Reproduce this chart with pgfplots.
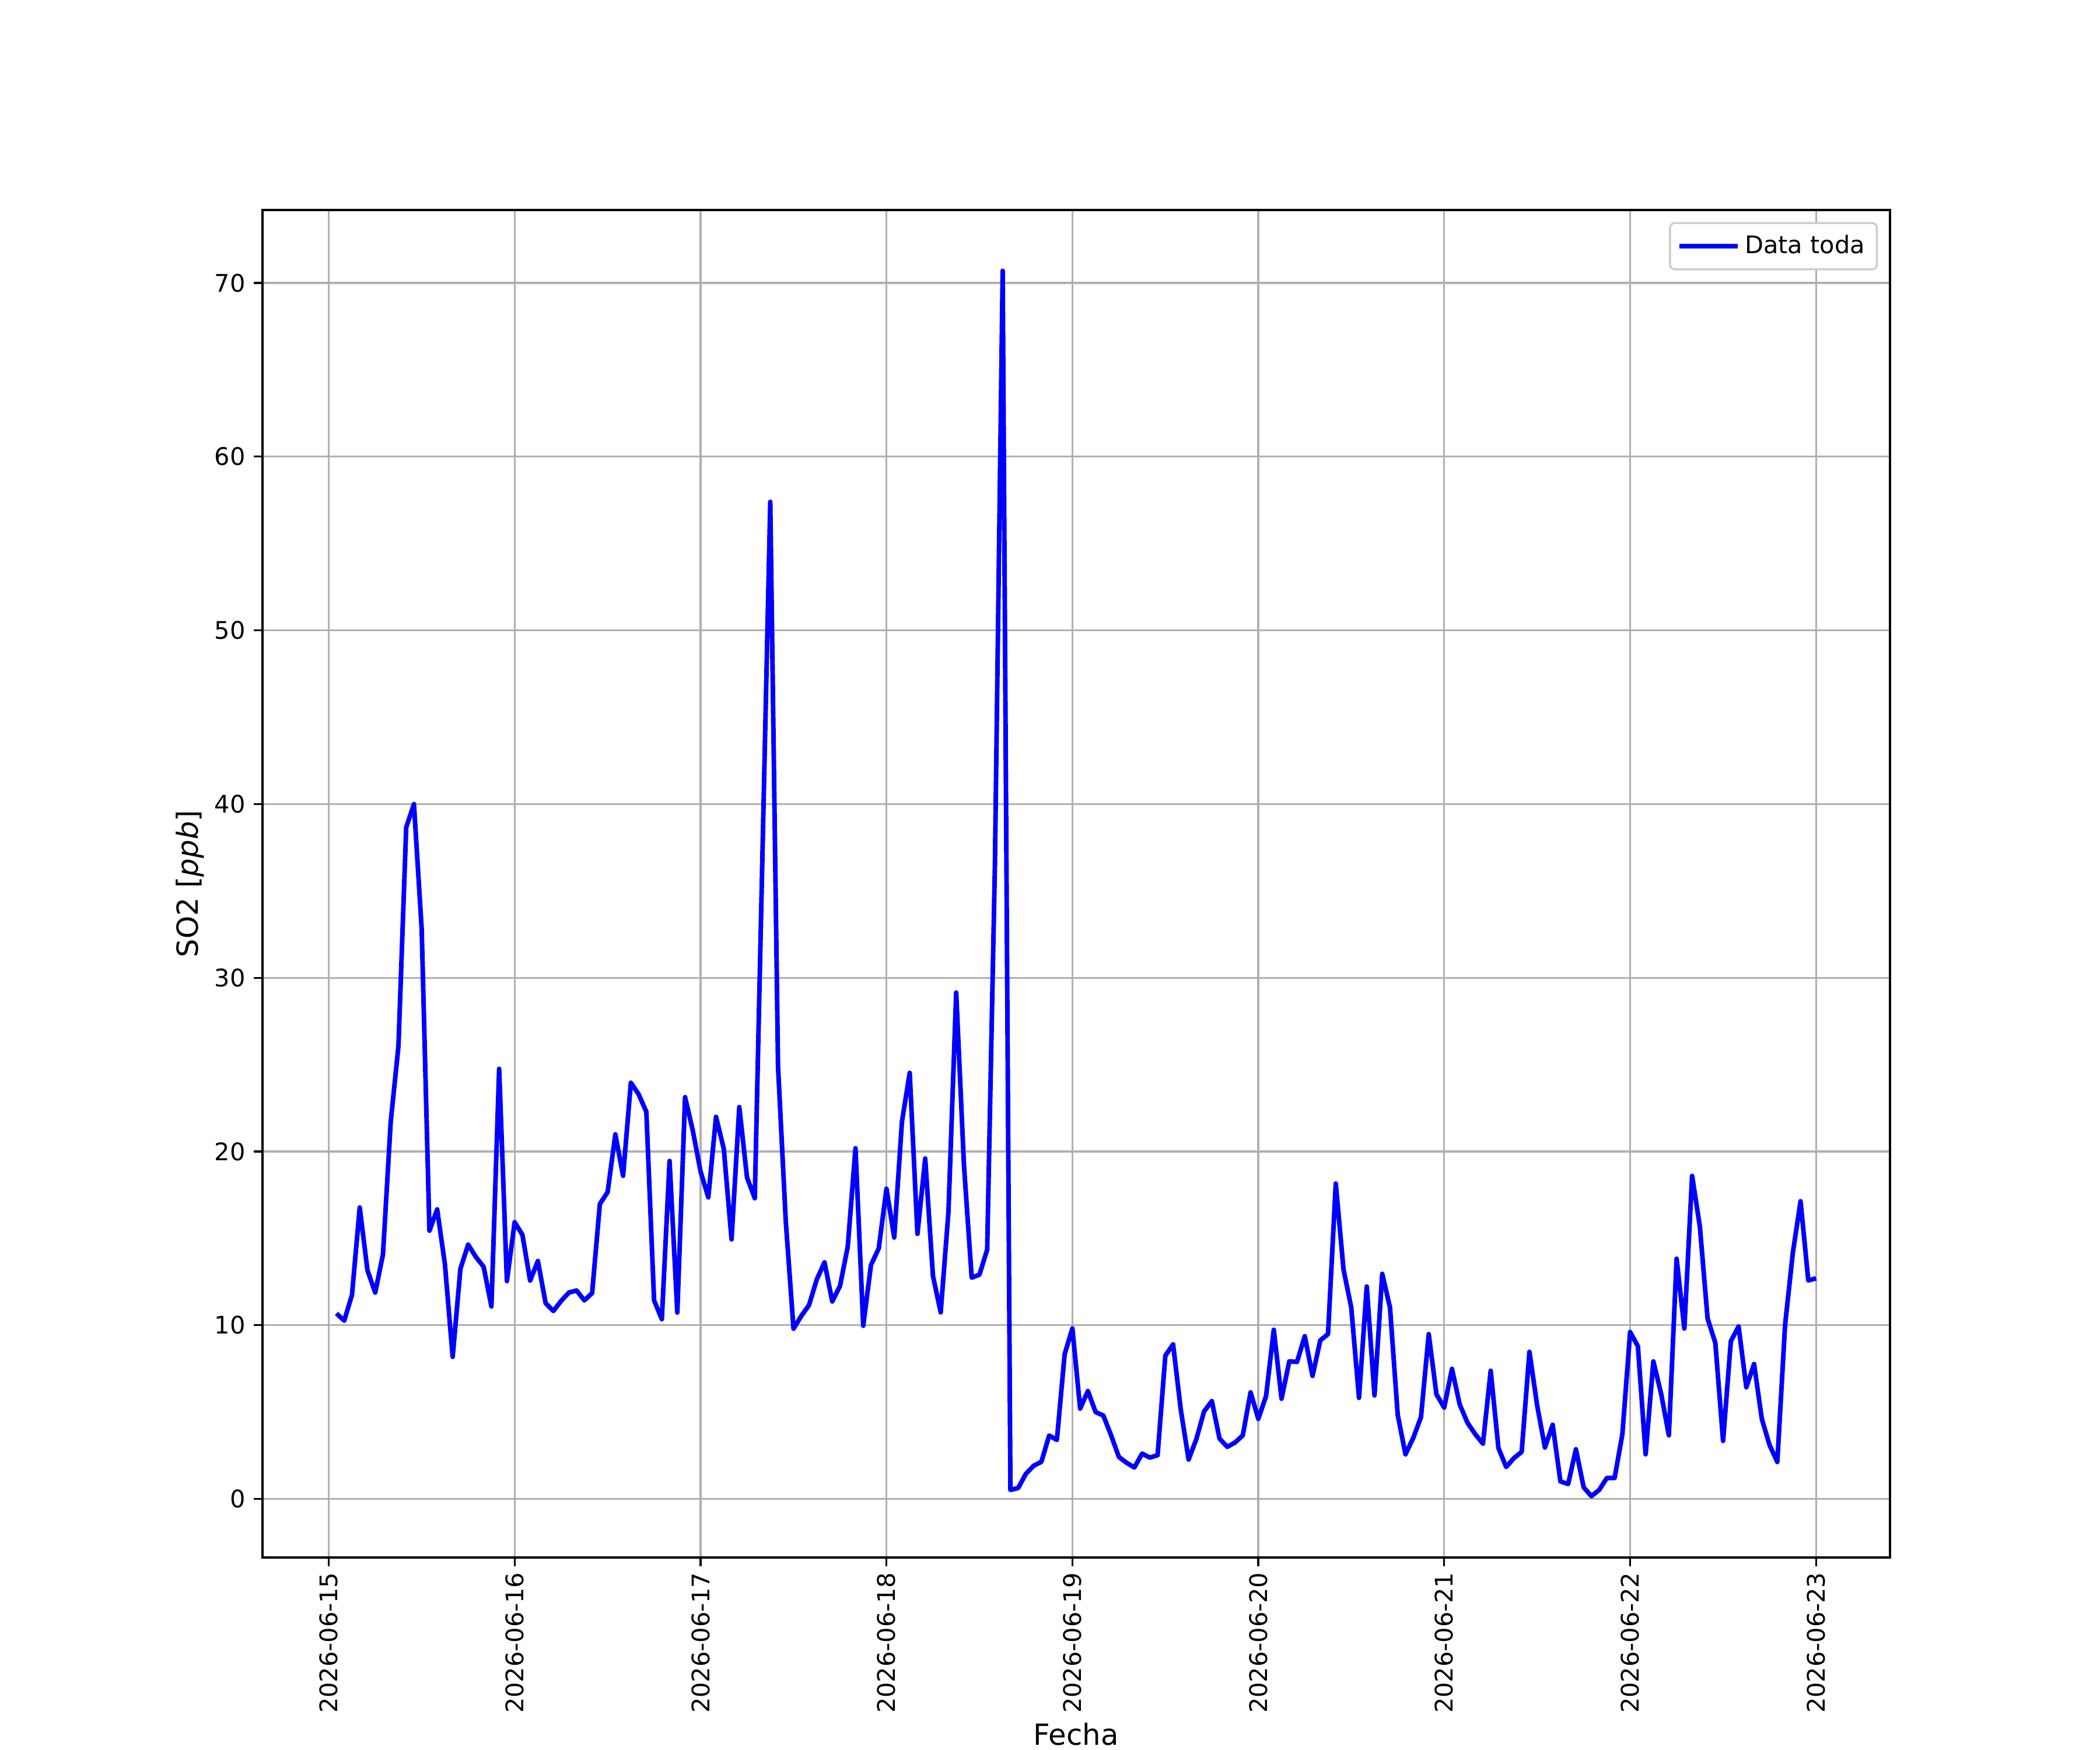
\documentclass[border=0pt]{standalone}
\usepackage{fontspec}
\setmainfont{DejaVu Sans}
\usepackage{pgfplots}
\pgfplotsset{compat=1.18}
\usepackage{pgfplotstable}
\definecolor{gridgray}{RGB}{176,176,176}
\pgfplotstableread{
h v
1 10.68
2 10.26
3 11.74
4 16.78
5 13.16
6 11.88
7 14.07
8 21.7
9 26.07
10 38.66
11 40.0
12 32.8
13 15.44
14 16.67
15 13.5
16 8.18
17 13.25
18 14.64
19 13.93
20 13.36
21 11.08
22 24.76
23 12.54
24 15.93
25 15.21
26 12.57
27 13.7
28 11.27
29 10.82
30 11.4
31 11.88
32 12.0
33 11.43
34 11.85
35 16.98
36 17.66
37 20.99
38 18.6
39 23.96
40 23.3
41 22.29
42 11.43
43 10.35
44 19.46
45 10.73
46 23.13
47 21.2
48 18.85
49 17.36
50 22.0
51 20.15
52 14.94
53 22.56
54 18.5
55 17.31
56 37.3
57 57.4
58 24.91
59 15.99
60 9.8
61 10.53
62 11.16
63 12.63
64 13.62
65 11.37
66 12.26
67 14.52
68 20.19
69 9.97
70 13.47
71 14.42
72 17.86
73 15.05
74 21.72
75 24.53
76 15.26
77 19.6
78 12.84
79 10.74
80 16.52
81 29.15
82 19.24
83 12.74
84 12.91
85 14.35
86 36.5
87 70.7
88 0.52
89 0.63
90 1.45
91 1.91
92 2.14
93 3.65
94 3.4
95 8.33
96 9.82
97 5.2
98 6.21
99 5.0
100 4.8
101 3.66
102 2.42
103 2.08
104 1.81
105 2.61
106 2.38
107 2.52
108 8.25
109 8.9
110 5.12
111 2.27
112 3.44
113 5.04
114 5.63
115 3.47
116 3.0
117 3.25
118 3.66
119 6.14
120 4.61
121 5.92
122 9.74
123 5.77
124 7.92
125 7.89
126 9.37
127 7.08
128 9.13
129 9.49
130 18.16
131 13.21
132 11.02
133 5.82
134 12.23
135 5.96
136 12.96
137 11.02
138 4.83
139 2.57
140 3.51
141 4.71
142 9.49
143 6.02
144 5.26
145 7.49
146 5.44
147 4.39
148 3.73
149 3.18
150 7.38
151 2.93
152 1.84
153 2.35
154 2.71
155 8.47
156 5.38
157 2.96
158 4.27
159 1.01
160 0.86
161 2.86
162 0.67
163 0.16
164 0.52
165 1.21
166 1.21
167 3.73
168 9.61
169 8.79
170 2.57
171 7.92
172 6.06
173 3.66
174 13.83
175 9.81
176 18.6
177 15.69
178 10.39
179 8.98
180 3.34
181 9.08
182 9.93
183 6.43
184 7.77
185 4.61
186 3.1
187 2.13
188 10.0
189 14.15
190 17.14
191 12.58
192 12.7
}\datatable
\begin{document}
\begin{tikzpicture}
\useasboundingbox (0,0) rectangle (12in,10in);
\begin{axis}[
  at={(1.5in,1.1in)}, anchor=south west,
  scale only axis, width=9.3in, height=7.7in,
  xmin=-8.55, xmax=201.55, ymin=-3.37, ymax=74.2,
  xtick={0,24,48,72,96,120,144,168,192},
  xticklabels={2026-06-15,2026-06-16,2026-06-17,2026-06-18,2026-06-19,2026-06-20,2026-06-21,2026-06-22,2026-06-23},
  ytick={0,10,20,30,40,50,60,70},
  grid=major,
  grid style={gridgray, line width=0.8pt},
  axis line style={line width=0.8pt},
  tick style={black, line width=0.8pt},
  tick align=outside, major tick length=3.5pt,
  xtick pos=bottom, ytick pos=left,
  tick label style={font=\fontsize{10}{12}\selectfont},
  xticklabel style={rotate=90, anchor=east, inner sep=2.5pt},
  /pgf/number format/assume math mode=true,
  xlabel={Fecha}, ylabel={SO2 [\textit{ppb}]},
  label style={font=\fontsize{12}{14}\selectfont},
  xlabel style={yshift=2pt},
  ylabel style={yshift=-2.5pt},
  legend cell align=left,
  legend style={at={(1,1)}, anchor=north east, xshift=-5pt, yshift=-5pt,
    draw=black!20, line width=0.8pt, rounded corners=2pt, font=\fontsize{10}{12}\selectfont,
    inner xsep=3pt, inner ysep=3pt},
  legend image code/.code={\draw[#1, line width=1.9pt] (0cm,0cm) -- (0.72cm,0cm); \path (0cm,0cm) -- (0.72cm+3.5pt,0cm);},
]
\addplot[blue, line width=1.9pt, line join=round] table[x=h, y=v] {\datatable};
\addlegendentry{Data toda}
\end{axis}
\end{tikzpicture}
\end{document}
